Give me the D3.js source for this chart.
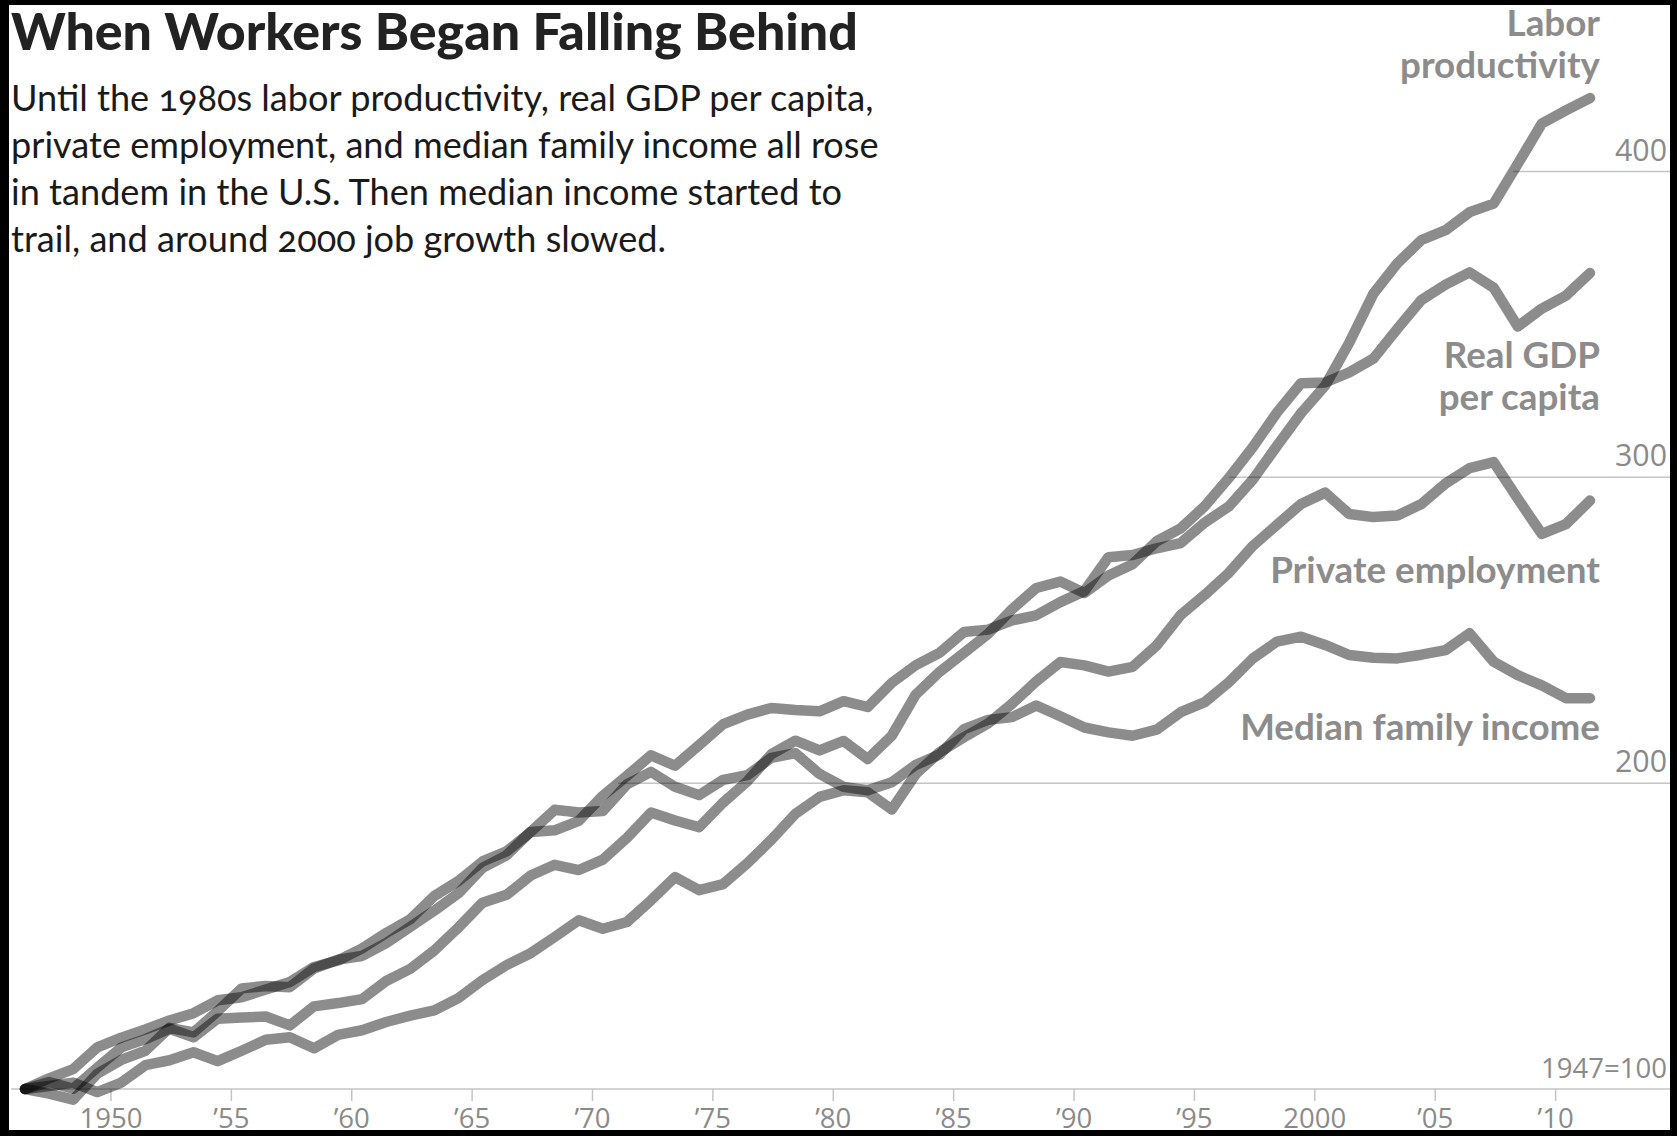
<!DOCTYPE html>
<html>
<head>
<meta charset="utf-8">
<script src="https://cdn.jsdelivr.net/npm/d3@7"></script>
<style>
  html, body { margin: 0; padding: 0; background: #000; }
  svg { display: block; }
</style>
</head>
<body>
<svg id="chart" width="1677" height="1136"></svg>
<script>
// index values, 1947 = 100, one value per year 1947-2012
const firstYear = 1947;
const laborProductivity = [
  100, 103.5, 106.5, 113.6, 116.8, 119.5, 122.4, 124.8, 129.0, 130.0,
  132.5, 135.0, 139.9, 142.0, 146.0, 151.0, 155.5, 163.1, 168.0, 174.4,
  177.7, 184.0, 184.6, 187.7, 195.9, 202.4, 209.1, 205.7, 212.5, 219.3,
  222.4, 224.6, 223.9, 223.5, 226.8, 224.9, 232.8, 238.6, 242.7, 249.4,
  250.2, 253.2, 254.9, 259.2, 262.8, 273.9, 274.6, 276.8, 278.5, 285.2,
  290.5, 299.3, 310.3, 321.0, 330.0, 344.0, 360.0, 370.0, 377.6, 380.8,
  386.7, 389.5, 402.5, 415.7, 420.0, 424.0
];
const gdpPerCapita = [
  100, 102.3, 100.1, 107.0, 113.6, 116.3, 119.7, 116.9, 123.0, 123.4,
  123.7, 120.8, 127.0, 128.1, 129.4, 135.3, 139.3, 145.3, 152.8, 160.9,
  163.5, 169.8, 173.3, 171.6, 175.0, 182.1, 190.4, 187.8, 185.6, 193.7,
  200.6, 209.5, 213.9, 210.7, 213.8, 207.9, 215.5, 229.0, 236.5, 242.6,
  248.8, 256.9, 263.8, 265.9, 262.2, 267.9, 271.6, 279.1, 283.3, 290.6,
  299.8, 309.9, 321.2, 330.8, 331.0, 334.3, 338.8, 348.6, 358.0, 363.0,
  367.0, 362.0, 349.3, 355.2, 359.4, 366.8
];
const privateEmployment = [
  100, 101.0, 102.1, 99.0, 102.1, 107.8, 109.4, 112.0, 109.1, 112.5,
  116.1, 116.9, 113.3, 117.7, 119.2, 121.9, 124.0, 125.7, 129.7, 135.6,
  140.5, 144.4, 149.7, 155.2, 152.4, 154.6, 161.7, 169.3, 165.0, 167.0,
  173.8, 181.5, 190.0, 195.5, 197.7, 197.0, 191.4, 203.0, 210.2, 215.0,
  219.5, 226.0, 233.3, 239.6, 238.5, 236.5, 238.0, 245.0, 255.0, 261.6,
  268.8, 277.6, 284.5, 291.3, 295.0, 288.0, 287.0, 287.5, 291.3, 298.0,
  303.0, 305.0, 293.0, 281.5, 284.7, 292.4
];
const medianFamilyIncome = [
  100, 98.5, 96.5, 105.0, 109.5, 112.5, 120.0, 118.5, 125.4, 132.9,
  133.7, 133.3, 139.4, 142.3, 143.5, 147.7, 153.0, 158.3, 164.0, 172.3,
  176.4, 184.1, 191.3, 190.4, 190.9, 199.6, 203.7, 198.8, 196.1, 201.1,
  202.6, 208.3, 209.8, 203.0, 198.8, 197.7, 200.3, 206.0, 209.4, 217.7,
  220.7, 221.6, 225.4, 221.9, 218.2, 216.6, 215.5, 217.5, 223.2, 226.5,
  233.0, 240.8, 246.3, 247.9, 245.2, 241.9, 241.0, 240.8, 242.0, 243.5,
  249.0, 239.7, 235.3, 232.0, 227.8, 227.8
];

const seriesLabels = [
  ["Labor", "productivity"],
  ["Real GDP", "per capita"],
  ["Private employment"],
  ["Median family income"]
];
const tickYears = [1950, 1955, 1960, 1965, 1970, 1975, 1980, 1985, 1990, 1995, 2000, 2005, 2010];
const tickLabels = ["1950", "\u201955", "\u201960", "\u201965", "\u201970", "\u201975", "\u201980",
  "\u201985", "\u201990", "\u201995", "2000", "\u201905", "\u201910"];
const gridValues = [200, 300, 400];
const baseLabel = "1947=100";

const title = "When Workers Began Falling Behind";
const subtitle = [
  "Until the 1980s labor productivity, real GDP per capita,",
  "private employment, and median family income all rose",
  "in tandem in the U.S. Then median income started to",
  "trail, and around 2000 job growth slowed."
];

const width = 1677, height = 1136;
const svg = d3.select("#chart");

// white card inside the dark frame of the screenshot
svg.append("rect").attr("width", width).attr("height", height).attr("fill", "#000");
svg.append("rect").attr("x", 9).attr("y", 5)
  .attr("width", width - 16).attr("height", height - 11).attr("fill", "#fff");

const x = d3.scaleLinear().domain([firstYear, 2012]).range([25, 1590]);
const y = d3.scaleLinear().domain([100, 400]).range([1089, 171.5]);
const rightEdge = 1670;

const allSeries = [laborProductivity, gdpPerCapita, privateEmployment, medianFamilyIncome];
const yearOf = i => firstYear + i;

// font size that makes a text take a given width
function fitWidth(sel, target) {
  const size = parseFloat(sel.attr("font-size"));
  const w = sel.node().getComputedTextLength();
  return size * target / w;
}

const axisFont = "'Open Sans', sans-serif";
const axisGrey = "#8a8a8a";
const ruleGrey = "#c4c4c4";

// gridlines start where the highest series first reaches the value
const topLine = laborProductivity.map((_, i) => d3.max(allSeries, s => s[i]));
function firstCross(v) {
  for (let i = 1; i < topLine.length; i++) {
    if (topLine[i] >= v) {
      const t = (v - topLine[i - 1]) / (topLine[i - 1] === topLine[i] ? 1 : topLine[i] - topLine[i - 1]);
      return x(yearOf(i - 1) + t);
    }
  }
  return x(2012);
}

// size of the small grey figures, taken from the width of "1950"
const probeTick = svg.append("text").attr("font-family", axisFont)
  .attr("font-size", 28).text(tickLabels[0]);
const tickSize = fitWidth(probeTick, 63);
probeTick.remove();
const probeGrid = svg.append("text").attr("font-family", axisFont)
  .attr("font-size", 28).text("400");
const gridSize = fitWidth(probeGrid, 52);
probeGrid.remove();

const grid = svg.append("g");
grid.selectAll("line").data(gridValues).join("line")
  .attr("x1", d => firstCross(d)).attr("x2", rightEdge)
  .attr("y1", d => y(d)).attr("y2", d => y(d))
  .attr("stroke", ruleGrey).attr("stroke-width", 1.5);
grid.selectAll("text").data(gridValues).join("text")
  .attr("x", 1667).attr("y", d => y(d) - 11)
  .attr("text-anchor", "end")
  .attr("font-family", axisFont).attr("font-size", gridSize)
  .attr("fill", axisGrey).text(d => d);

// baseline + year ticks
svg.append("line").attr("x1", 11).attr("x2", rightEdge)
  .attr("y1", y(100)).attr("y2", y(100))
  .attr("stroke", ruleGrey).attr("stroke-width", 1.5);

const xAxis = d3.axisBottom(x)
  .tickValues(tickYears.map(d => d + 0.55))
  .tickFormat((d, i) => tickLabels[i])
  .tickSize(12).tickPadding(7);
const axisG = svg.append("g").attr("transform", `translate(0,${y(100)})`).call(xAxis);
axisG.select(".domain").remove();
axisG.selectAll(".tick line").attr("stroke", ruleGrey).attr("stroke-width", 1.5);
axisG.selectAll(".tick text")
  .attr("font-family", axisFont).attr("font-size", tickSize)
  .attr("fill", axisGrey);

const base = svg.append("text").attr("x", 1667).attr("y", y(100) - 11)
  .attr("text-anchor", "end")
  .attr("font-family", axisFont).attr("font-size", tickSize)
  .attr("fill", axisGrey).text(baseLabel);
base.attr("font-size", fitWidth(base, 126));

// the four lines
const line = d3.line()
  .x((d, i) => x(yearOf(i)))
  .y(d => y(d));

svg.append("g").selectAll("path").data(allSeries).join("path")
  .attr("d", d => line(d))
  .attr("fill", "none")
  .attr("stroke", "#000")
  .attr("stroke-opacity", 0.45)
  .attr("stroke-width", 10.5)
  .attr("stroke-linejoin", "round")
  .attr("stroke-linecap", "round");

// series labels, right aligned
const labelFont = "Lato, 'Open Sans', sans-serif";
const labelBaselines = [[36, 78], [368, 410], [582.5], [740]];
const labelG = svg.append("g");
const probe = labelG.append("text").attr("font-family", labelFont)
  .attr("font-weight", 700).attr("font-size", 30).text(seriesLabels[2][0]);
const labelSize = fitWidth(probe, 330);
probe.remove();
seriesLabels.forEach((rows, k) => {
  rows.forEach((row, j) => {
    labelG.append("text")
      .attr("x", 1600).attr("y", labelBaselines[k][j])
      .attr("text-anchor", "end")
      .attr("font-family", labelFont).attr("font-weight", 700)
      .attr("font-size", labelSize)
      .attr("fill", "#8c8c8c").text(row);
  });
});

// title and intro text
const titleText = svg.append("text").attr("x", 11).attr("y", 50)
  .attr("font-family", labelFont).attr("font-weight", 900)
  .attr("font-size", 44).attr("fill", "#222").text(title);
titleText.attr("font-size", fitWidth(titleText, 847));

const subBaselines = [111, 158, 205, 252];
const subWidths = [853, 872, 824, 665];
const subG = svg.append("g");
const subTexts = subtitle.map((s, i) => subG.append("text")
  .attr("x", 11).attr("y", subBaselines[i])
  .attr("font-family", labelFont).attr("font-size", 33)
  .style("font-variant-numeric", "oldstyle-nums")
  .attr("fill", "#1a1a1a").text(s));
const subSize = d3.mean(subTexts, (t, i) => fitWidth(t, subWidths[i]));
subTexts.forEach(t => t.attr("font-size", subSize));
</script>
</body>
</html>
